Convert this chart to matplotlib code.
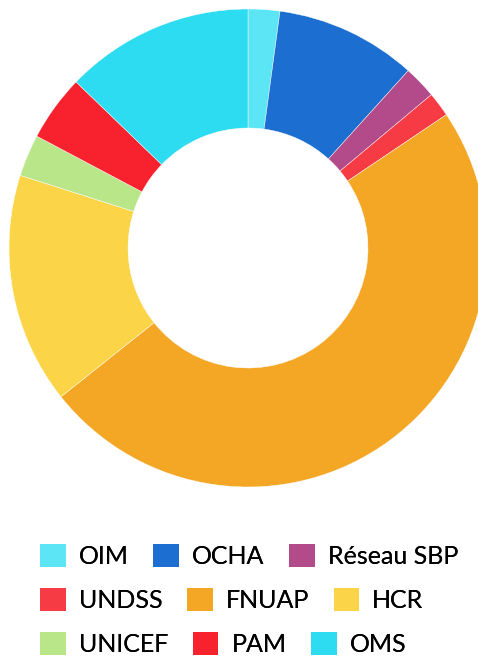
import matplotlib.pyplot as plt
from matplotlib.patches import Rectangle

# agencies and their share of the ring (in degrees)
labels = ["OIM", "OCHA", "Réseau SBP", "UNDSS", "FNUAP", "HCR", "UNICEF", "PAM", "OMS"]
values = [7.7, 34.4, 8.0, 6.0, 175.4, 56.2, 10.2, 16.1, 46.0]
colors = ["#5ce5f5", "#1c6fd0", "#b34a8a", "#f73b45", "#f4a724",
          "#fbd448", "#bae68a", "#f8222e", "#2ddcf0"]
rows = [[0, 1, 2], [3, 4, 5], [6, 7, 8]]

plt.rcParams['font.family'] = ['Lato', 'DejaVu Sans']

W, H = 478, 657
fig = plt.figure(figsize=(W/100, H/100), dpi=100)

cx, cy, R, r = 248, 248, 239, 120
ax = fig.add_axes([(cx-R)/W, (H-cy-R)/H, 2*R/W, 2*R/H])
ax.pie(values, colors=colors, startangle=90, counterclock=False, radius=1,
       wedgeprops=dict(width=1-r/R, edgecolor="white", linewidth=0.3))
ax.set_xlim(-1, 1)
ax.set_ylim(-1, 1)
ax.set_aspect("equal")
ax.axis("off")

fs = 18
row_y = [556, 600, 644]
for row, yy in zip(rows, row_y):
    handles = [Rectangle((0, 0), 1, 1, facecolor=colors[i], edgecolor="none") for i in row]
    leg = fig.legend(handles, [labels[i] for i in row], loc="center left",
                     bbox_to_anchor=(40/W, 1-yy/H), ncol=3, frameon=False,
                     fontsize=fs, handlelength=1.03, handleheight=1.03,
                     handletextpad=0.52, columnspacing=0.98,
                     borderpad=0, borderaxespad=0)
    fig.add_artist(leg)

fig.savefig("out.png", dpi=100)
